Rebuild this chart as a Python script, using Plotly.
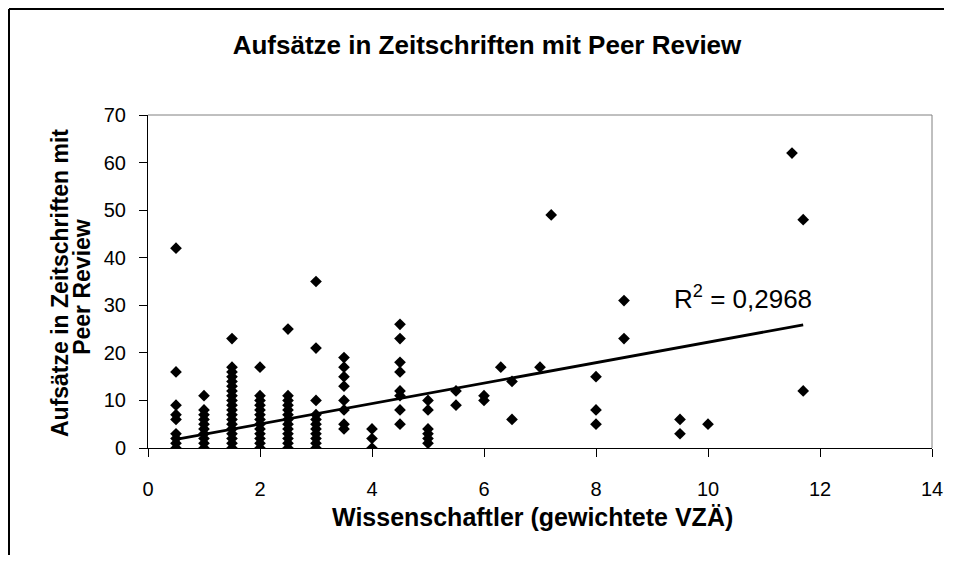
import plotly.graph_objects as go

# Wissenschaftler (gewichtete VZÄ) je Einheit
sci_fte = (
    [0.5] * 9 + [1.0] * 10 + [1.5] * 19 + [2.0] * 13 + [2.5] * 13 + [3.0] * 11
    + [3.5] * 8 + [4.0] * 3 + [4.5] * 8 + [5.0] * 6 + [5.5] * 2 + [6.0] * 2
    + [6.3, 6.5, 6.5, 7.0, 7.2] + [8.0] * 3 + [8.5] * 2 + [9.5] * 2
    + [10.0, 11.5, 11.7, 11.7]
)
papers = (
    [42, 16, 9, 7, 6, 3, 2, 1, 0]
    + [11, 8, 7, 6, 5, 4, 3, 2, 1, 0]
    + [23, 17, 16, 15, 14, 13, 12, 11, 10, 9, 8, 7, 6, 5, 4, 3, 2, 1, 0]
    + [17, 11, 10, 9, 8, 7, 6, 5, 4, 3, 2, 1, 0]
    + [25, 11, 10, 9, 8, 7, 6, 5, 4, 3, 2, 1, 0]
    + [35, 21, 10, 7, 6, 5, 4, 3, 2, 1, 0]
    + [19, 17, 15, 13, 10, 8, 5, 4]
    + [4, 2, 0]
    + [26, 23, 18, 16, 12, 11, 8, 5]
    + [10, 8, 4, 3, 2, 1]
    + [12, 9]
    + [11, 10]
    + [17, 14, 6, 17, 49]
    + [15, 8, 5]
    + [31, 23]
    + [6, 3]
    + [5, 62, 48, 12]
)

# lineare Trendlinie (Endpunkte aus der Grafik)
trend_x = [0.5, 11.7]
trend_y = [1.8, 25.9]
r2_label = "R<sup>2</sup> = 0,2968"

FONT = "Liberation Sans, Arial, sans-serif"

# die Seite hat 8px Rand, also Figur entsprechend kleiner
W, H = 936, 547
L, T = 140, 107
PW, PH = 784, 333  # Plotbereich in px

fig = go.Figure()
fig.add_trace(go.Scatter(x=sci_fte, y=papers, mode="markers",
                         marker=dict(symbol="diamond", size=9, color="black"),
                         showlegend=False))
fig.add_trace(go.Scatter(x=trend_x, y=trend_y, mode="lines",
                         line=dict(color="black", width=2.8),
                         showlegend=False))

fig.update_layout(
    width=W, height=H,
    margin=dict(l=L, r=W - L - PW, t=T, b=H - T - PH),
    paper_bgcolor="white", plot_bgcolor="white",
    font=dict(family=FONT, color="black"),
    title=dict(text="<b>Aufsätze in Zeitschriften mit Peer Review</b>",
               xref="container", x=479 / W, xanchor="center",
               yref="container", y=1 - 37 / H, yanchor="middle",
               font=dict(size=26, family=FONT, color="black")),
)
fig.update_xaxes(range=[0, 14], dtick=2, ticks="outside", ticklen=8,
                 tickcolor="black", showline=True, linecolor="black", linewidth=1,
                 showgrid=False, zeroline=False, automargin=False,
                 ticklabelstandoff=15, tickfont=dict(size=20))
fig.update_yaxes(range=[0, 70], dtick=10, ticks="outside", ticklen=8,
                 tickcolor="black", showline=True, linecolor="black", linewidth=1,
                 showgrid=False, zeroline=False, automargin=False,
                 ticklabelstandoff=9, tickfont=dict(size=20))

# graue Rahmenlinien oben und rechts am Plotbereich
fig.add_shape(type="line", xref="paper", yref="paper", x0=0, x1=1, y0=1, y1=1,
              line=dict(color="#808080", width=1))
fig.add_shape(type="line", xref="paper", yref="paper", x0=1, x1=1, y0=0, y1=1,
              line=dict(color="#808080", width=1))
# äußerer Diagrammrahmen (nur oben und links sichtbar), bis an den Figurrand
x_left = (1 - L) / PW
x_right = (W - L) / PW
y_top = (T + PH - 1) / PH
y_bottom = -(H - T - PH) / PH
fig.add_shape(type="line", xref="paper", yref="paper", x0=x_left, x1=x_right, y0=y_top, y1=y_top,
              line=dict(color="black", width=2))
fig.add_shape(type="line", xref="paper", yref="paper", x0=x_left, x1=x_left, y0=y_bottom, y1=y_top,
              line=dict(color="black", width=2))

fig.add_annotation(text=r2_label, x=10.62, y=31.7, xref="x", yref="y",
                   showarrow=False, font=dict(size=26))
fig.add_annotation(text="<b>Wissenschaftler (gewichtete VZÄ)</b>",
                   x=0.491, y=-0.2072, xref="paper", yref="paper",
                   xanchor="center", yanchor="middle",
                   showarrow=False, font=dict(size=25))
fig.add_annotation(text="<b>Aufsätze in Zeitschriften mit</b>",
                   x=-0.1122, y=0.4955, xref="paper", yref="paper",
                   xanchor="center", yanchor="middle", textangle=-90,
                   showarrow=False, font=dict(size=23))
fig.add_annotation(text="<b>Peer Review</b>",
                   x=-0.0842, y=0.484, xref="paper", yref="paper",
                   xanchor="center", yanchor="middle", textangle=-90,
                   showarrow=False, font=dict(size=23))

fig.write_html("out.html")
